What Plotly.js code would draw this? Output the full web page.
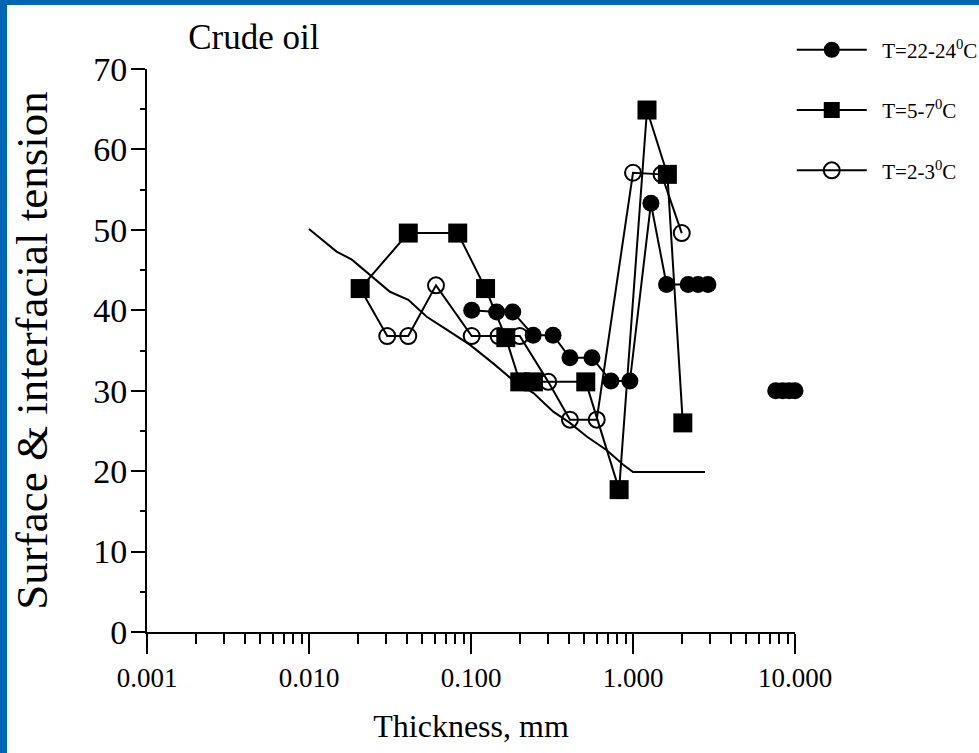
<!DOCTYPE html>
<html>
<head>
<meta charset="utf-8">
<script src="https://cdn.plot.ly/plotly-3.0.1.min.js"></script>
<style>
  html, body { margin: 0; padding: 0; background: #0066b3; width: 979px; height: 753px; overflow: hidden; }
  #chart { position: absolute; left: 7px; top: 5px; width: 972px; height: 748px; background: #ffffff; }
</style>
</head>
<body>
<div id="chart"></div>
<script>
// Reference curve (no markers)
const curveX = [0.0100, 0.0148, 0.0184, 0.0238, 0.0316, 0.041, 0.0533, 0.0708, 0.0987, 0.137, 0.182, 0.243, 0.322, 0.408, 0.518, 0.689, 0.871, 1.0, 2.78];
const curveY = [50.1, 47.3, 46.3, 44.4, 42.3, 41.3, 39.2, 37.6, 35.7, 33.4, 31.3, 29.7, 27.4, 26.0, 24.3, 22.6, 20.8, 19.9, 19.9];

// T = 22-24 C (filled circles)
const warmX = [0.101, 0.144, 0.181, 0.242, 0.321, 0.408, 0.558, 0.731, 0.957, 1.29, 1.61, 2.19, 2.52, 2.90, null, 7.6, 8.4, 9.2, 10.0];
const warmY = [40.0, 39.8, 39.8, 36.9, 36.9, 34.1, 34.1, 31.2, 31.2, 53.3, 43.2, 43.2, 43.2, 43.2, null, 30.0, 30.0, 30.0, 30.0];

// T = 5-7 C (filled squares)
const coolX = [0.0207, 0.041, 0.0828, 0.123, 0.164, 0.200, 0.243, 0.511, 0.821, 1.22, 1.63, 2.03];
const coolY = [42.7, 49.6, 49.6, 42.7, 36.6, 31.1, 31.1, 31.1, 17.7, 64.9, 56.9, 26.0];

// T = 2-3 C (open circles)
const coldX = [0.0207, 0.0304, 0.041, 0.0608, 0.101, 0.148, 0.200, 0.300, 0.408, 0.597, 1.0, 1.50, 2.0];
const coldY = [42.7, 36.8, 36.8, 43.1, 36.8, 36.8, 36.8, 31.1, 26.4, 26.4, 57.1, 56.9, 49.6];

const seriesNames = ['T=22-24<sup>0</sup>C', 'T=5-7<sup>0</sup>C', 'T=2-3<sup>0</sup>C'];
const xTickVals = [0.001, 0.01, 0.1, 1, 10];
const xTickText = ['0.001', '0.010', '0.100', '1.000', '10.000'];
const yTickVals = [0, 10, 20, 30, 40, 50, 60, 70];

const FONT = '"Liberation Serif", "Times New Roman", Times, serif';
const PAD = '\u00a0\u00a0';

const traces = [
  { x: curveX, y: curveY, type: 'scatter', mode: 'lines', showlegend: false,
    line: { color: '#000', width: 2 }, hoverinfo: 'skip' },
  { x: warmX, y: warmY, type: 'scatter', mode: 'lines+markers', name: PAD + seriesNames[0],
    legendgroup: 'a', cliponaxis: false, connectgaps: false,
    line: { color: '#000', width: 2 },
    marker: { symbol: 'circle', size: 17, color: '#000' } },
  { x: coolX, y: coolY, type: 'scatter', mode: 'lines+markers', name: PAD + seriesNames[1],
    legendgroup: 'b', cliponaxis: false,
    line: { color: '#000', width: 2 },
    marker: { symbol: 'square', size: 19, color: '#000' } },
  { x: coldX, y: coldY, type: 'scatter', mode: 'lines+markers', name: PAD + seriesNames[2],
    legendgroup: 'c', cliponaxis: false,
    line: { color: '#000', width: 2 },
    marker: { symbol: 'circle-open', size: 16, color: '#000', line: { color: '#000', width: 2 } } }
];

const layout = {
  width: 972, height: 748,
  paper_bgcolor: '#ffffff', plot_bgcolor: '#ffffff',
  margin: { l: 140, r: 184, t: 64, b: 121, autoexpand: false },
  font: { family: FONT, color: '#000', size: 20 },
  title: { text: 'Crude oil', font: { family: FONT, size: 35, color: '#000' },
           x: 0.254, xanchor: 'center', xref: 'container', y: 0.958, yanchor: 'middle', yref: 'container' },
  xaxis: {
    type: 'log', range: [-3, 1], showgrid: false, zeroline: false,
    showline: true, linecolor: '#000', linewidth: 2,
    ticks: 'outside', ticklen: 20, tickwidth: 2, tickcolor: '#000',
    tickmode: 'array', tickvals: xTickVals, ticktext: xTickText,
    ticklabelstandoff: 1,
    tickfont: { family: FONT, size: 27, color: '#000' },
    minor: { ticks: 'outside', ticklen: 10, tickwidth: 2, tickcolor: '#000', dtick: 'D1', showgrid: false },
    title: { text: 'Thickness, mm', font: { family: FONT, size: 32, color: '#000' }, standoff: 22 }
  },
  yaxis: {
    range: [0, 70], showgrid: false, zeroline: false,
    showline: true, linecolor: '#000', linewidth: 2,
    ticks: 'outside', ticklen: 14, tickwidth: 2, tickcolor: '#000',
    tickmode: 'array', tickvals: yTickVals,
    ticklabelstandoff: -3,
    tickfont: { family: FONT, size: 34, color: '#000' },
    minor: { ticks: 'outside', ticklen: 5, tickwidth: 2, tickcolor: '#000', dtick: 5, showgrid: false },
    title: { text: 'Surface &amp; interfacial tension', font: { family: FONT, size: 45, color: '#000' }, standoff: 75 }
  },
  legend: {
    x: 0.995, xanchor: 'left', y: 1.07, yanchor: 'top',
    bgcolor: 'rgba(0,0,0,0)', borderwidth: 0,
    font: { family: FONT, size: 21, color: '#000' },
    itemwidth: 70, tracegroupgap: 30, traceorder: 'grouped', itemclick: false, itemdoubleclick: false
  },
  showlegend: true
};

Plotly.newPlot('chart', traces, layout, { displayModeBar: false, staticPlot: true });
</script>
</body>
</html>
